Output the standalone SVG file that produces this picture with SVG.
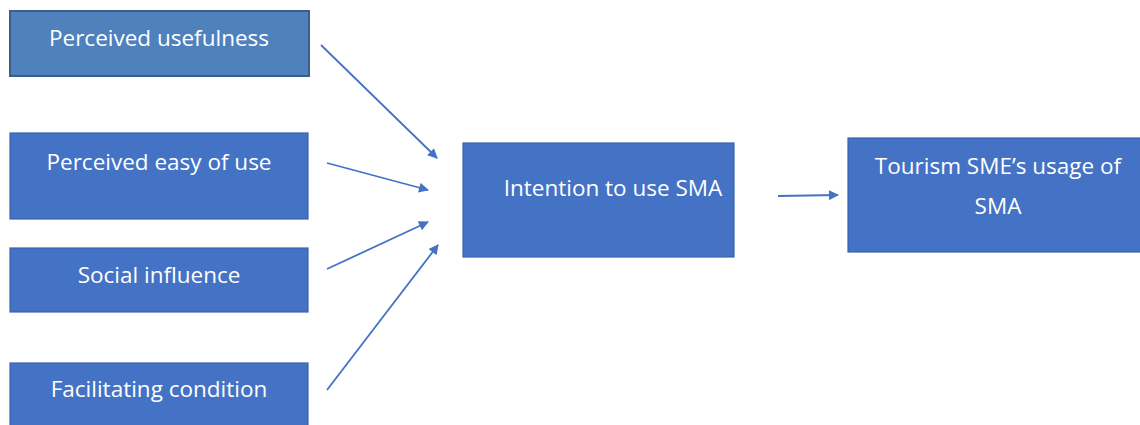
<svg xmlns="http://www.w3.org/2000/svg" width="1140" height="425" viewBox="0 0 1140 425">
<defs>
<style>
.box{fill:#4472c4;stroke:#3a63ad;stroke-width:1.2}
.box2{fill:#4f81bd;stroke:#3a5f8f;stroke-width:2}
.t{font-family:"Open Sans","Liberation Sans",sans-serif;font-size:22.5px;fill:#ffffff;text-anchor:middle}
.c{stroke:#4472c4;stroke-width:1.8;fill:none;marker-end:url(#ah)}
</style>
<marker id="ah" viewBox="0 0 10 10" refX="9" refY="5" markerWidth="11" markerHeight="10" orient="auto" markerUnits="userSpaceOnUse">
<path d="M0,0 L10,5 L0,10 z" fill="#4472c4"/>
</marker>
</defs>
<rect width="1140" height="425" fill="#ffffff"/>
<g id="n1"><rect class="box2" x="10" y="11" width="299" height="65"/><text class="t" x="159" y="46">Perceived usefulness</text></g>
<g id="n2"><rect class="box" x="10" y="133" width="298" height="86"/><text class="t" x="159" y="170">Perceived easy of use</text></g>
<g id="n3"><rect class="box" x="10" y="248" width="298" height="64"/><text class="t" x="159" y="283">Social influence</text></g>
<g id="n4"><rect class="box" x="10" y="363" width="298" height="70"/><text class="t" x="159" y="397">Facilitating condition</text></g>
<g id="n5"><rect class="box" x="463" y="143" width="271" height="114"/><text class="t" x="613" y="196">Intention to use SMA</text></g>
<g id="n6"><rect class="box" x="848" y="138" width="300" height="114"/><text class="t" x="998" y="174">Tourism SME’s usage of</text><text class="t" x="998" y="214">SMA</text></g>
<g id="connectors">
<line class="c" x1="321" y1="45" x2="437" y2="158"/>
<line class="c" x1="327" y1="163" x2="428" y2="190"/>
<line class="c" x1="327" y1="269" x2="428" y2="222"/>
<line class="c" x1="327" y1="390" x2="438" y2="245"/>
<line class="c" x1="778" y1="196" x2="838" y2="195"/>
</g>
</svg>
